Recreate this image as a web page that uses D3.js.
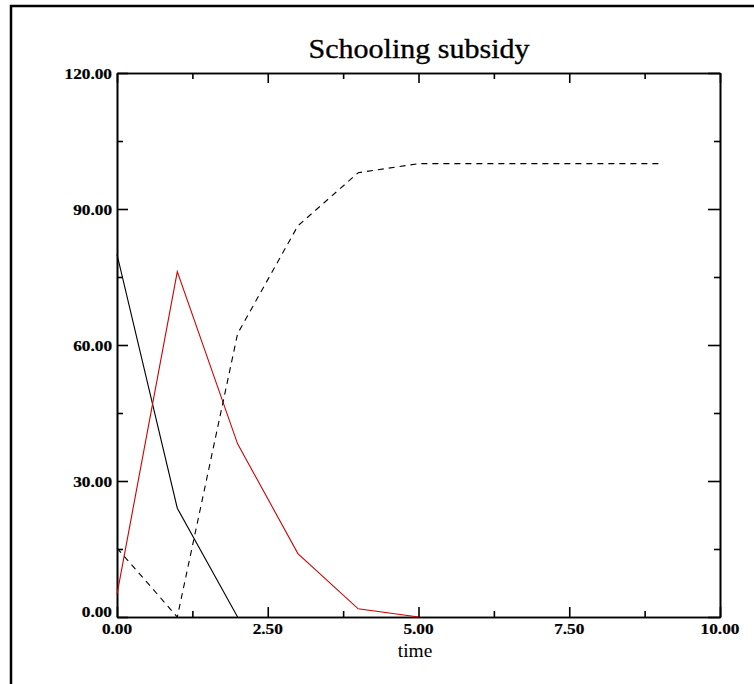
<!DOCTYPE html>
<html>
<head>
<meta charset="utf-8">
<script src="https://cdn.jsdelivr.net/npm/d3@7"></script>
<style>
  body { margin: 0; background: #fff; }
  svg { display: block; }
  .serif { font-family: "Liberation Serif", "Times New Roman", Times, serif; }
</style>
</head>
<body>
<svg id="chart" width="754" height="684"></svg>
<script>
const title = "Schooling subsidy";
const xLabel = "time";
const xTicks = [0, 2.5, 5, 7.5, 10];
const xMinorTicks = [1.25, 3.75, 6.25, 8.75];
const yTicks = [0, 30, 60, 90, 120];
const yMinorTicks = [15, 45, 75, 105];

const blackTime = [0, 1, 2];
const blackValues = [80, 24, 0];
const redTime = [0, 1, 2, 3, 4, 5];
const redValues = [5, 76.2, 38.2, 14, 1.8, 0];
const dashedTime = [0, 1, 2, 3, 4, 5, 6, 7, 8, 9];
const dashedValues = [15.2, 0, 62.5, 86.3, 98, 100, 100, 100, 100, 100];

const svg = d3.select("#chart");
const mLeft = 117, mRight = 720, mTop = 73, mBottom = 617;
const x = d3.scaleLinear().domain([0, 10]).range([mLeft, mRight]);
const y = d3.scaleLinear().domain([0, 120]).range([mBottom, mTop]);

svg.append("path").attr("d", `M11,684 V6 H754`).attr("fill", "none")
  .attr("stroke", "#000").attr("stroke-width", 2.5);

svg.append("text").attr("class", "serif").attr("x", 419).attr("y", 58).attr("text-anchor", "middle")
  .attr("font-size", 27).attr("textLength", 221).attr("lengthAdjust", "spacingAndGlyphs")
  .attr("stroke", "#000").attr("stroke-width", 0.35)
  .text(title);

const axisG = svg.append("g");
function drawAxis(axis, tr) {
  const g = axisG.append("g").attr("transform", tr).call(axis);
  g.select(".domain").attr("stroke-width", 1.6);
  g.selectAll(".tick line").attr("stroke-width", 1.6);
  g.selectAll("text").remove();
  return g;
}
drawAxis(d3.axisBottom(x).tickValues(xTicks).tickSizeInner(-10).tickSizeOuter(0), `translate(0,${mBottom})`);
drawAxis(d3.axisBottom(x).tickValues(xMinorTicks).tickSizeInner(-6).tickSizeOuter(0), `translate(0,${mBottom})`);
drawAxis(d3.axisTop(x).tickValues(xTicks).tickSizeInner(-10).tickSizeOuter(0), `translate(0,${mTop})`);
drawAxis(d3.axisTop(x).tickValues(xMinorTicks).tickSizeInner(-6).tickSizeOuter(0), `translate(0,${mTop})`);
drawAxis(d3.axisLeft(y).tickValues(yTicks).tickSizeInner(-11).tickSizeOuter(0), `translate(${mLeft},0)`);
drawAxis(d3.axisLeft(y).tickValues(yMinorTicks).tickSizeInner(-6).tickSizeOuter(0), `translate(${mLeft},0)`);
drawAxis(d3.axisRight(y).tickValues(yTicks).tickSizeInner(-12).tickSizeOuter(0), `translate(${mRight},0)`);
drawAxis(d3.axisRight(y).tickValues(yMinorTicks).tickSizeInner(-6).tickSizeOuter(0), `translate(${mRight},0)`);

const fmt = d3.format(".2f");
svg.append("g").selectAll("text").data(yTicks).join("text").attr("class", "serif")
  .attr("transform", d => `translate(112,${d === 0 ? y(d) : y(d) + 5.5}) scale(1.25,1)`)
  .attr("text-anchor", "end")
  .attr("font-weight", "bold").attr("font-size", 13.8)
  .attr("stroke", "#000").attr("stroke-width", 0.2).text(fmt);
svg.append("g").selectAll("text").data(xTicks).join("text").attr("class", "serif")
  .attr("transform", d => `translate(${x(d)},634) scale(1.25,1)`)
  .attr("text-anchor", "middle")
  .attr("font-weight", "bold").attr("font-size", 13.8)
  .attr("stroke", "#000").attr("stroke-width", 0.2).text(fmt);

svg.append("text").attr("class", "serif").attr("transform", `translate(415,657) scale(1.08,1)`)
  .attr("text-anchor", "middle")
  .attr("font-size", 18).text(xLabel);

const line = d3.line().x(d => x(d[0])).y(d => y(d[1]));
const lg = svg.append("g").attr("fill", "none");
lg.append("path").datum(d3.zip(blackTime, blackValues)).attr("d", line)
  .attr("stroke", "#000").attr("stroke-width", 1.1);
lg.append("path").datum(d3.zip(redTime, redValues)).attr("d", line)
  .attr("stroke", "#d00000").attr("stroke-width", 1.1);
lg.append("path").datum(d3.zip(dashedTime, dashedValues)).attr("d", line)
  .attr("stroke", "#000").attr("stroke-width", 1.1).attr("stroke-dasharray", "6,5");
</script>
</body>
</html>
